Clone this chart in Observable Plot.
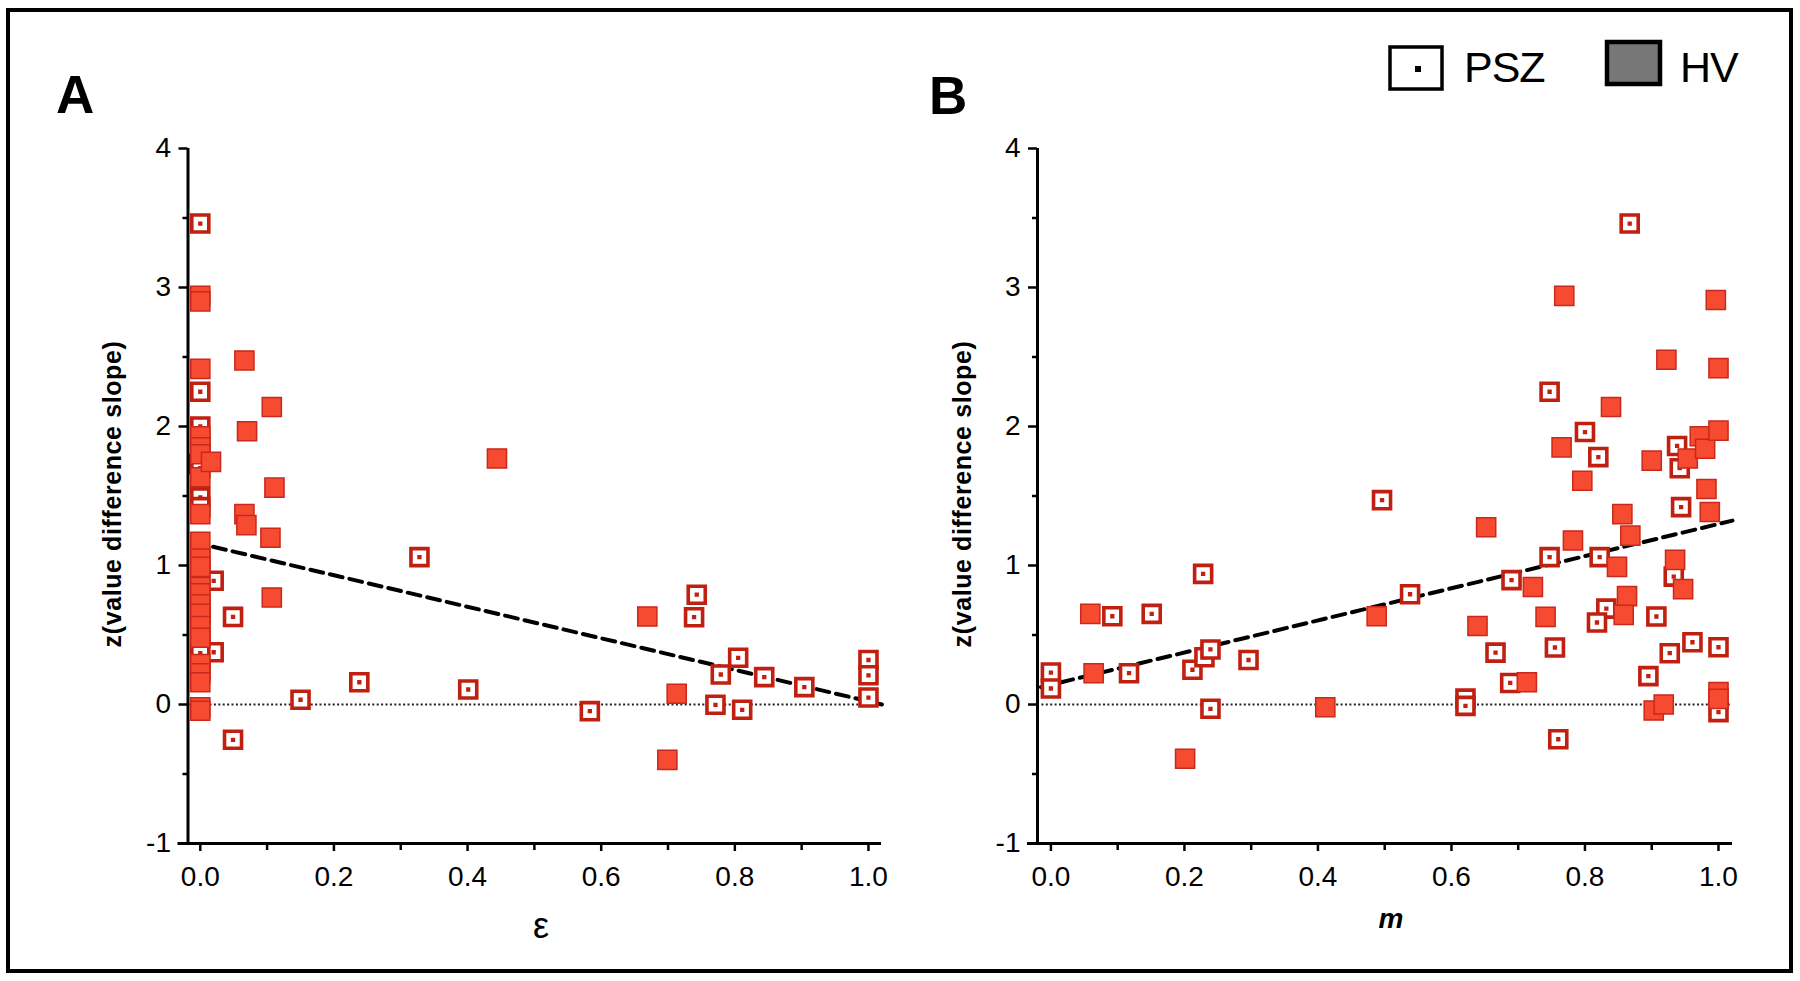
<!DOCTYPE html>
<html>
<head>
<meta charset="utf-8">
<script src="https://cdn.jsdelivr.net/npm/d3@7"></script>
<script src="https://cdn.jsdelivr.net/npm/@observablehq/plot@0.6"></script>
<style>
  html, body { margin: 0; padding: 0; background: #fff; }
  #wrap { position: relative; width: 1800px; height: 981px; overflow: hidden; font-family: "Liberation Sans", Arial, Helvetica, sans-serif; }
  #border { position: absolute; left: 6px; top: 8px; width: 1787px; height: 965px; border: 4.5px solid #000; box-sizing: border-box; }
  .panel { position: absolute; top: 0; }
  #overlay { position: absolute; left: 0; top: 0; pointer-events: none; }
</style>
</head>
<body>
<div id="wrap">
  <div id="border"></div>
  <div id="panelA" class="panel" style="left:0px"></div>
  <div id="panelB" class="panel" style="left:900px"></div>
  <svg id="overlay" width="1800" height="981"></svg>
</div>
<script>
// ---------- data ----------
// Panel A: x = epsilon, y = z(value difference slope)
const pszEpsA = [0.0, 0.0, 0.0, 0.0, -0.004, 0.0, 0.0, 0.0, 0.0, 0.02, 0.0, 0.0, 0.0, 0.0, 0.0, 0.0, 0.0, 0.02, 0.0, 0.0,
                 0.049, 0.049, 0.328, 0.15, 0.238, 0.401, 0.583, 0.739, 0.743, 0.805, 0.779, 0.771, 0.811, 0.844, 0.904, 1.0, 1.0, 1.0];
const pszZA   = [3.46, 2.25, 2.0, 1.86, 1.73, 1.70, 1.49, 1.42, 1.06, 0.89, 0.92, 0.69, 0.65, 0.59, 0.45, 0.41, 0.40, 0.376, 0.37, 0.25,
                 0.63, -0.254, 1.06, 0.034, 0.16, 0.108, -0.048, 0.628, 0.79, 0.336, 0.216, -0.002, -0.038, 0.197, 0.125, 0.32, 0.21, 0.05];
const hvEpsA  = [0, 0, 0, 0, 0, 0, 0, 0, 0, 0, 0, 0, 0, 0, 0, 0, 0, 0, 0, 0, 0, 0,
                 0.066, 0.107, 0.070, 0.444, 0.016, 0.111, 0.066, 0.069, 0.105, 0.107, 0.669, 0.713, 0.699];
const hvZA    = [2.94, 2.90, 2.415, 1.93, 1.85, 1.80, 1.635, 1.37, 1.17, 1.05, 0.99, 0.845, 0.80, 0.72, 0.652, 0.565, 0.48, 0.29, 0.225, 0.16, -0.02, -0.045,
                 2.475, 2.14, 1.966, 1.77, 1.745, 1.56, 1.37, 1.29, 1.20, 0.77, 0.633, 0.077, -0.398];

// Panel B: x = m, y = z(value difference slope)
const pszMB = [0.0, 0.0, 0.092, 0.151, 0.117, 0.228, 0.212, 0.23, 0.239, 0.296, 0.239, 0.496, 0.538, 0.621, 0.621, 0.666, 0.688, 0.69, 0.747,
               0.747, 0.755, 0.76, 0.80, 0.82, 0.822, 0.832, 0.818, 0.867, 0.907, 0.895, 0.927, 0.933, 0.938, 0.942, 0.944, 0.961, 1.0, 1.0];
const pszZB = [0.23, 0.115, 0.635, 0.652, 0.225, 0.94, 0.25, 0.34, 0.396, 0.32, -0.031, 1.47, 0.793, 0.042, -0.01, 0.373, 0.155, 0.895, 1.06,
               2.25, 0.41, -0.25, 1.96, 1.78, 1.06, 0.69, 0.59, 3.46, 0.633, 0.204, 0.369, 0.92, 1.86, 1.70, 1.42, 0.448, 0.412, -0.055];
const hvMB  = [0.059, 0.064, 0.201, 0.411, 0.488, 0.639, 0.652, 0.713, 0.722, 0.741, 0.765, 0.769, 0.782, 0.796, 0.839, 0.848, 0.856, 0.863,
               0.858, 0.868, 0.90, 0.903, 0.918, 0.922, 0.935, 0.947, 0.954, 0.972, 0.98, 0.982, 0.987, 0.996, 1.0, 1.0, 1.0, 1.0];
const hvZB  = [0.652, 0.225, -0.39, -0.02, 0.635, 0.565, 1.275, 0.16, 0.845, 0.63, 1.85, 2.94, 1.18, 1.61, 2.14, 0.99, 1.37, 0.78,
               0.645, 1.215, 1.755, -0.043, 0.0, 2.48, 1.04, 0.83, 1.77, 1.93, 1.84, 1.55, 1.385, 2.91, 2.42, 1.97, 0.09, 0.04];

// Regression lines (end points)
const regAx = [-0.01, 1.02], regAy = [1.168, 0.0];
const regBx = [-0.015, 1.021], regBy = [0.125, 1.323];

// Tick values
const yMajor = [-1, 0, 1, 2, 3, 4];
const yMinor = [-0.5, 0.5, 1.5, 2.5, 3.5];
const xMajor = [0, 0.2, 0.4, 0.6, 0.8, 1.0];
const xMinor = [0.1, 0.3, 0.5, 0.7, 0.9];

// ---------- build tables ----------
const zip = (xs, ys) => xs.map((x, i) => ({x, z: ys[i]}));
const pszA = zip(pszEpsA, pszZA), hvA = zip(hvEpsA, hvZA);
const pszB = zip(pszMB, pszZB), hvB = zip(hvMB, hvZB);
const regA = regAx.map((x, i) => ({x, y: regAy[i]}));
const regB = regBx.map((x, i) => ({x, y: regBy[i]}));

const RED = "#f64b31", RED_EDGE = "#c9291b", RED_DARK = "#c11f10";
const FONT = '"Liberation Sans", Arial, Helvetica, sans-serif';

// open square with a small centre dot (stroke draws the dot)
const openSquare = {
  draw(ctx, size) {
    const s = Math.sqrt(size) / 2, t = 0.35;
    ctx.moveTo(-s, -s); ctx.lineTo(s, -s); ctx.lineTo(s, s); ctx.lineTo(-s, s); ctx.closePath();
    ctx.moveTo(-t, -t); ctx.lineTo(t, -t); ctx.lineTo(t, t); ctx.lineTo(-t, t); ctx.closePath();
  }
};

function makePanel({psz, hv, reg, xd, ml, mr}) {
  return Plot.plot({
    width: 900, height: 981,
    marginLeft: ml, marginRight: mr, marginTop: 148, marginBottom: 138,
    x: {domain: xd, label: null},
    y: {domain: [-1, 4], label: null},
    style: {fontFamily: FONT, background: "transparent", overflow: "visible", color: "#000"},
    marks: [
      Plot.ruleY([0], {stroke: "#222", strokeWidth: 2, strokeDasharray: "2,2.4"}),
      Plot.line(reg, {x: "x", y: "y", stroke: "#000", strokeWidth: 4, strokeDasharray: "13,7"}),
      Plot.dot(psz, {x: "x", y: "z", symbol: openSquare, r: 9.6, fill: "#fff", stroke: RED_DARK, strokeWidth: 3.6, strokeLinejoin: "miter"}),
      Plot.dot(hv, {x: "x", y: "z", symbol: "square", r: 10.8, fill: RED, stroke: RED_EDGE, strokeWidth: 1.5}),
      Plot.ruleX([xd[0]], {stroke: "#000", strokeWidth: 3}),
      Plot.ruleY([-1], {stroke: "#000", strokeWidth: 3, insetLeft: -10}),
      Plot.axisY({ticks: yMajor, tickSize: 9, tickPadding: 8, tickFormat: d => String(d), fontSize: 28, strokeWidth: 2.5, label: null}),
      Plot.axisY({ticks: yMinor, tickSize: 5, tickFormat: () => "", strokeWidth: 2.5, label: null}),
      Plot.axisX({ticks: xMajor, tickSize: 8, tickPadding: 15, tickFormat: d3.format(".1f"), fontSize: 28, strokeWidth: 2.5, label: null}),
      Plot.axisX({ticks: xMinor, tickSize: 7, tickFormat: () => "", strokeWidth: 2.5, label: null})
    ]
  });
}

document.getElementById("panelA").append(makePanel({psz: pszA, hv: hvA, reg: regA, xd: [-0.0184, 1.0195], ml: 187.5, mr: 19}));
document.getElementById("panelB").append(makePanel({psz: pszB, hv: hvB, reg: regB, xd: [-0.0201, 1.021], ml: 137, mr: 68}));

// ---------- overlay texts: panel letters, axis titles, legend ----------
const ov = d3.select("#overlay").style("font-family", FONT);
ov.append("text").attr("x", 56).attr("y", 113).attr("font-size", 53).attr("font-weight", "bold").text("A");
ov.append("text").attr("x", 929).attr("y", 114).attr("font-size", 53).attr("font-weight", "bold").text("B");

[112, 962].forEach(cx => {
  ov.append("text")
    .attr("transform", `translate(${cx + 9},494) rotate(-90)`)
    .attr("text-anchor", "middle").attr("font-size", 25).attr("font-weight", "bold")
    .attr("letter-spacing", 0.6)
    .text("z(value difference slope)");
});
ov.append("text").attr("x", 541).attr("y", 938).attr("text-anchor", "middle").attr("font-size", 36).text("ε");
ov.append("text").attr("x", 1391).attr("y", 928).attr("text-anchor", "middle").attr("font-size", 28)
  .attr("font-weight", "bold").attr("font-style", "italic").text("m");

// legend
ov.append("rect").attr("x", 1390).attr("y", 47).attr("width", 52).attr("height", 42)
  .attr("fill", "#fff").attr("stroke", "#000").attr("stroke-width", 3.5);
ov.append("rect").attr("x", 1415).attr("y", 66).attr("width", 6).attr("height", 6).attr("fill", "#000");
ov.append("text").attr("x", 1464).attr("y", 82).attr("font-size", 43).attr("letter-spacing", -1).text("PSZ");
ov.append("rect").attr("x", 1607).attr("y", 42).attr("width", 53).attr("height", 42)
  .attr("fill", "#777").attr("stroke", "#000").attr("stroke-width", 4.5);
ov.append("text").attr("x", 1680).attr("y", 82).attr("font-size", 43).attr("letter-spacing", -1).text("HV");
</script>
</body>
</html>
